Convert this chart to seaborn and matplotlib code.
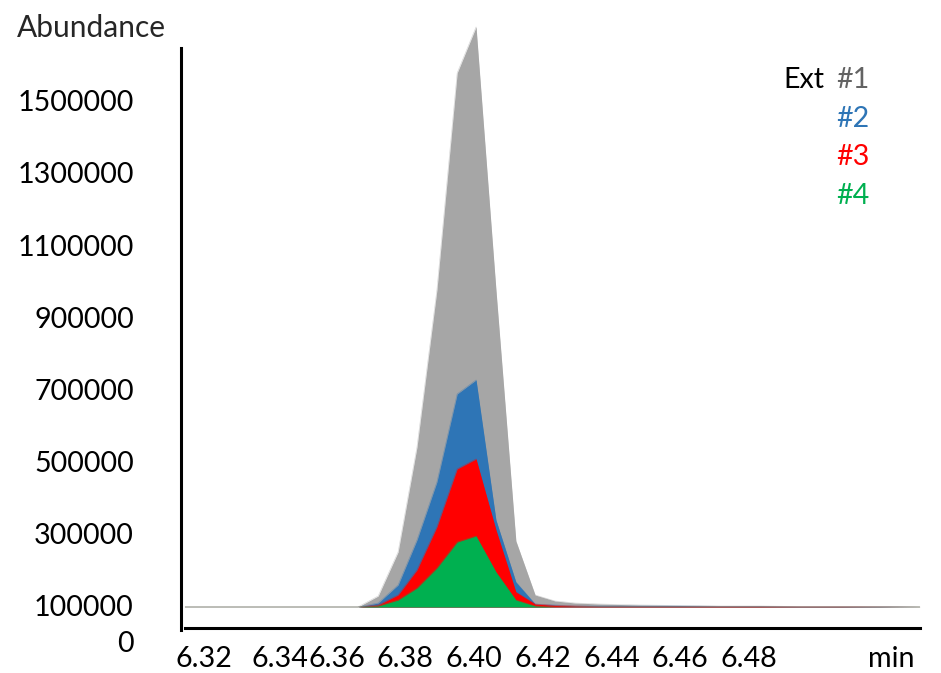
import matplotlib
matplotlib.use('Agg')
import matplotlib.pyplot as plt
import seaborn as sns

# retention time (min)
times = [6.3159, 6.3662, 6.3721, 6.3779, 6.3834, 6.3892, 6.3951, 6.4006, 6.4064,
         6.4122, 6.4178, 6.4236, 6.4294, 6.4367, 6.4483, 6.4600, 6.4716, 6.4833,
         6.4949, 6.5066, 6.5182, 6.5298]

ext1 = [97000, 97000, 127500, 249500, 540500, 975700, 1577300, 1704800, 975700,
        280000, 130300, 113700, 108100, 105300, 102600, 101200, 99800, 99800,
        98400, 98400, 98400, 97000]
ext2 = [97000, 97000, 108100, 158000, 282700, 443500, 687500, 726300, 338200,
        166300, 105300, 102600, 99800, 99800, 99800, 99800, 99000, 99000,
        98400, 98400, 98000, 97000]
ext3 = [97000, 97000, 102600, 130300, 199600, 318800, 479600, 507300, 310500,
        138600, 105300, 101200, 99800, 98400, 98400, 98400, 98400, 98400,
        98000, 98000, 97500, 97000]
ext4 = [97000, 97000, 99800, 116400, 149700, 205100, 277200, 293800, 194000,
        116400, 99800, 97000, 97000, 97000, 97000, 97000, 97000, 97000,
        97000, 97000, 97000, 97000]

baseline = 97000
series = [ext1, ext2, ext3, ext4]
names = ['#1', '#2', '#3', '#4']
colors = ['#a6a6a6', '#2e75b6', '#ff0000', '#00b050']
label_colors = ['#636363', '#2e75b6', '#ff0000', '#00b050']

# label positions as placed in the original (6.32 / 6.34 sit a little right)
x_ticks = [6.3215, 6.3435, 6.36, 6.38, 6.40, 6.42, 6.44, 6.46, 6.48, 6.5215]
x_labels = ['6.32', '6.34', '6.36', '6.38', '6.40', '6.42', '6.44', '6.46', '6.48', 'min']
y_ticks = [0, 100000, 300000, 500000, 700000, 900000, 1100000, 1300000, 1500000]

sns.set_style('white')
plt.rcParams['font.family'] = ['Lato', 'DejaVu Sans']

fs = 20.6

fig = plt.figure(figsize=(9.41, 6.73), dpi=100)
ax = fig.add_axes([181 / 941, 31 / 673, 744 / 941, 622 / 673])

for s, c in zip(series, colors):
    ax.fill_between(times, s, baseline, color=c, lw=0)
    sns.lineplot(x=times, y=s, color=c, lw=0.4, alpha=0.5, ax=ax)

ax.set_xlim(6.3147, 6.5313)
ax.set_ylim(0, 1724000)

ax.set_xticks(x_ticks)
ax.set_xticklabels(x_labels)
ax.set_yticks(y_ticks)
ax.set_yticklabels([str(v) for v in y_ticks])
ax.tick_params(axis='both', length=0, labelsize=fs, colors='black')
ax.tick_params(axis='y', pad=34)
ax.tick_params(axis='x', pad=13)

for side in ['top', 'right']:
    ax.spines[side].set_visible(False)
ax.spines['bottom'].set_position(('data', 38800))
ax.spines['bottom'].set_bounds(6.3159, 6.5298)
ax.spines['left'].set_bounds(33000, 1647000)
for side in ['bottom', 'left']:
    ax.spines[side].set_linewidth(2.2)
    ax.spines[side].set_color('black')

ax.set_xlabel('')
ax.set_ylabel('')

fig.text(17 / 941, 1 - 28 / 673, 'Abundance', ha='left', va='center', fontsize=21.5)

# coloured legend text
ax.text(824 / 941, 1 - 80 / 673, 'Ext', transform=fig.transFigure, ha='right', va='center',
        fontsize=fs, color='black')
for i, (n, c) in enumerate(zip(names, label_colors)):
    ax.text(836 / 941, 1 - (80 + 38.7 * i) / 673, n, transform=fig.transFigure,
            ha='left', va='center', fontsize=fs, color=c)

plt.savefig('out.png', dpi=100)
